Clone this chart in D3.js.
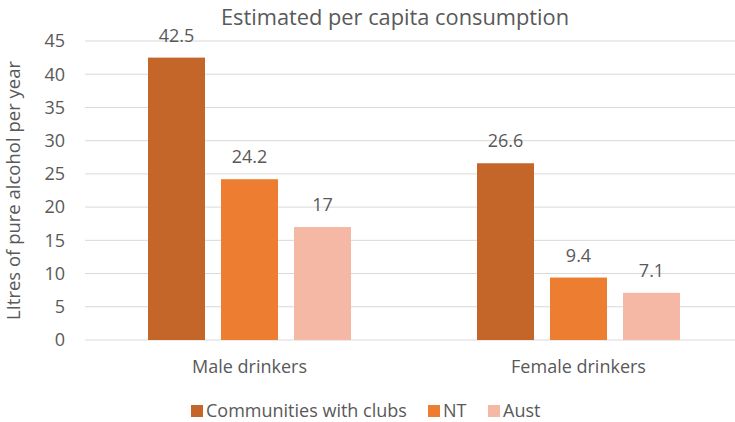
<!DOCTYPE html>
<html>
<head>
<meta charset="utf-8">
<script src="https://cdn.jsdelivr.net/npm/d3@7"></script>
<style>
  body { margin: 0; background: #fff; }
  text { font-family: "Open Sans", sans-serif; fill: #595959; }
</style>
</head>
<body>
<svg id="chart" width="735" height="422"></svg>
<script>
const categories = ['Male drinkers', 'Female drinkers'];
const seriesNames = ['Communities with clubs', 'NT', 'Aust'];
const clubs = [42.5, 26.6];
const nt = [24.2, 9.4];
const aust = [17, 7.1];
const yTicks = [0, 5, 10, 15, 20, 25, 30, 35, 40, 45];

const colors = ['#C4652A', '#ED7D31', '#F4B8A5'];
const values = [clubs, nt, aust];

const svg = d3.select('#chart');
const plotLeft = 85, plotRight = 743, plotTop = 41, plotBottom = 340;

const x0 = d3.scaleBand().domain(categories).range([plotLeft, plotRight]).paddingInner(0).paddingOuter(0);
const x1 = d3.scaleBand().domain(seriesNames).range([63, 329 - 63]).paddingInner(16 / 73);
const y = d3.scaleLinear().domain([0, 45]).range([plotBottom, plotTop]);

// gridlines
svg.append('g')
  .selectAll('line')
  .data(yTicks)
  .join('line')
  .attr('x1', plotLeft)
  .attr('x2', plotRight)
  .attr('y1', d => y(d))
  .attr('y2', d => y(d))
  .attr('stroke', '#D9D9D9')
  .attr('stroke-width', 1);

// y tick labels
svg.append('g')
  .selectAll('text')
  .data(yTicks)
  .join('text')
  .attr('x', 65)
  .attr('y', d => y(d))
  .attr('dy', '0.35em')
  .attr('text-anchor', 'end')
  .style('font-size', '18px')
  .text(d => d);

// bars
const groups = svg.append('g')
  .selectAll('g')
  .data(categories)
  .join('g')
  .attr('transform', d => 'translate(' + x0(d) + ',0)');

groups.selectAll('rect')
  .data((c, i) => seriesNames.map((s, j) => ({ s, v: values[j][i], j })))
  .join('rect')
  .attr('x', d => x1(d.s))
  .attr('width', x1.bandwidth())
  .attr('y', d => y(d.v))
  .attr('height', d => y(0) - y(d.v))
  .attr('fill', d => colors[d.j]);

groups.selectAll('text')
  .data((c, i) => seriesNames.map((s, j) => ({ s, v: values[j][i], j })))
  .join('text')
  .attr('x', d => x1(d.s) + x1.bandwidth() / 2)
  .attr('y', d => y(d.v) - 16)
  .attr('text-anchor', 'middle')
  .style('font-size', '18px')
  .text(d => d.v);

// category labels
svg.append('g')
  .selectAll('text')
  .data(categories)
  .join('text')
  .attr('x', d => x0(d) + x0.bandwidth() / 2)
  .attr('y', 373)
  .attr('text-anchor', 'middle')
  .style('font-size', '18px')
  .text(d => d);

// title
svg.append('text')
  .attr('x', 395)
  .attr('y', 25)
  .attr('text-anchor', 'middle')
  .style('font-size', '21.8px')
  .text('Estimated per capita consumption');

// y axis title
svg.append('text')
  .attr('transform', 'translate(20,' + ((plotTop + plotBottom) / 2) + ') rotate(-90)')
  .attr('text-anchor', 'middle')
  .style('font-size', '18.5px')
  .text('LItres of pure alcohol per year');

// legend
const legendX = [191, 428, 488];
const legend = svg.append('g')
  .selectAll('g')
  .data(seriesNames)
  .join('g')
  .attr('transform', (d, i) => 'translate(' + legendX[i] + ',405)');

legend.append('rect')
  .attr('width', 12)
  .attr('height', 12)
  .attr('fill', (d, i) => colors[i]);

legend.append('text')
  .attr('x', 15)
  .attr('y', 12)
  .style('font-size', '18px')
  .text(d => d);
</script>
</body>
</html>
